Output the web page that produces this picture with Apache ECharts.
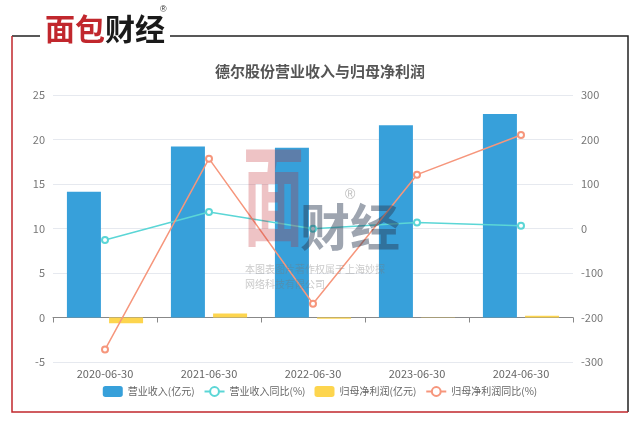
<!DOCTYPE html>
<html><head><meta charset="utf-8">
<script src="https://cdn.jsdelivr.net/npm/echarts@6/dist/echarts.min.js"></script>
<style>html,body{margin:0;padding:0;background:#fff}#c{width:640px;height:424px}</style>
</head><body><div id="c"></div>
<script>
const categories = ['2020-06-30','2021-06-30','2022-06-30','2023-06-30','2024-06-30'];
const revenue = [14.13, 19.2, 19.06, 21.6, 22.87];
const revenueYoY = [-26, 37, -0.5, 13.7, 6.3];
const netProfit = [-0.64, 0.45, -0.15, 0.02, 0.19];
const netProfitYoY = [-272, 157, -169, 121, 210];
const leftTicks = {min: -5, max: 25, interval: 5};
const rightTicks = {min: -300, max: 300, interval: 100};

const chart = echarts.init(document.getElementById('c'));
const font = '"Noto Sans CJK SC", "Noto Sans", sans-serif';
chart.setOption({
  animation: false,
  textStyle: {fontFamily: font},
  title: {text: '德尔股份营业收入与归母净利润', left: 'center', top: 59,
    textStyle: {fontSize: 15, fontWeight: 'bold', color: '#555', fontFamily: font}},
  grid: {left: 53, right: 67, top: 95, bottom: 62},
  legend: {bottom: 22, left: 'center', itemWidth: 20, itemHeight: 11, itemGap: 9,
    textStyle: {fontSize: 10, color: '#666'},
    data: ['营业收入(亿元)','营业收入同比(%)','归母净利润(亿元)','归母净利润同比(%)']},
  xAxis: {type: 'category', data: categories,
    axisLine: {onZeroAxisIndex: 0, lineStyle: {color: '#888'}},
    axisTick: {show: true, lineStyle: {color: '#888'}},
    axisLabel: {color: '#666', fontSize: 11, margin: 6 }},
  yAxis: [
    {type: 'value', min: leftTicks.min, max: leftTicks.max, interval: leftTicks.interval,
     axisLine: {show: false}, axisTick: {show: false},
     axisLabel: {color: '#777', fontSize: 11},
     splitLine: {lineStyle: {color: '#e6e9ef'}}},
    {type: 'value', min: rightTicks.min, max: rightTicks.max, interval: rightTicks.interval,
     axisLine: {show: false}, axisTick: {show: false},
     axisLabel: {color: '#777', fontSize: 11},
     splitLine: {show: false}}
  ],
  series: [
    {name: '营业收入(亿元)', type: 'bar', data: revenue, barWidth: 34, barGap: '24%',
     itemStyle: {color: '#37a0da'}},
    {name: '营业收入同比(%)', type: 'line', yAxisIndex: 1, data: revenueYoY,
     symbol: 'emptyCircle', symbolSize: 6, lineStyle: {width: 1.5, color: '#5bd6d6'},
     itemStyle: {color: '#5bd6d6'}, z: 5},
    {name: '归母净利润(亿元)', type: 'bar', data: netProfit, barWidth: 34,
     itemStyle: {color: '#fdd54e'}},
    {name: '归母净利润同比(%)', type: 'line', yAxisIndex: 1, data: netProfitYoY,
     symbol: 'emptyCircle', symbolSize: 6, lineStyle: {width: 1.5, color: '#f6967c'},
     itemStyle: {color: '#f6967c'}, z: 5}
  ],
  graphic: [
    {type: 'polyline', shape: {points: [[12,36],[628,36],[628,412]]}, style: {stroke: '#222', lineWidth: 1.5, fill: null}, silent: true},
    {type: 'polyline', shape: {points: [[12,36],[12,412],[628,412]]}, style: {stroke: '#c1272d', lineWidth: 1.5, fill: null}, silent: true},
    {type: 'rect', shape: {x: 40, y: 10, width: 130, height: 42}, style: {fill: '#fff'}, silent: true},
    {type: 'text', left: 45, top: 14, style: {text: '面包', fill: '#c1272d', font: 'bold 30px "Noto Sans CJK SC"'}, silent: true},
    {type: 'text', left: 105, top: 14, style: {text: '财经', fill: '#1a1a1a', font: 'bold 30px "Noto Sans CJK SC"'}, silent: true},
    {type: 'text', left: 160, top: 5, style: {text: '®', fill: '#333', font: '9px sans-serif'}, silent: true},
    {type: 'text', x: 243, y: 140, scaleX: 0.58, scaleY: 1.05, z: 100, style: {text: '面', fill: 'rgba(193,39,45,0.28)', font: 'bold 105px "Noto Sans CJK SC"'}, silent: true},
    {type: 'text', left: 300, top: 202, z: 100, style: {text: '财经', fill: 'rgba(40,55,80,0.45)', font: 'bold 50px "Noto Sans CJK SC"'}, silent: true},
    {type: 'text', left: 345, top: 188, z: 100, style: {text: '®', fill: 'rgba(120,120,120,0.5)', font: '14px sans-serif'}, silent: true},
    {type: 'text', left: 245, top: 262, z: 100, style: {text: '本图表图片著作权属于上海妙探\n网络科技有限公司', fill: 'rgba(120,120,120,0.4)', font: '10px "Noto Sans CJK SC"', lineHeight: 15}, silent: true}
  ]
});
</script></body></html>
